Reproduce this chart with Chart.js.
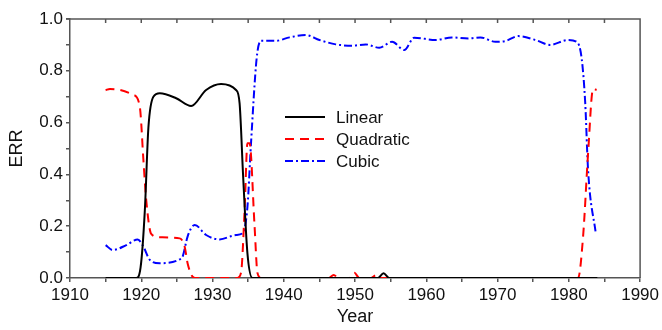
<!DOCTYPE html>
<html>
<head>
<meta charset="utf-8">
<script src="https://cdn.jsdelivr.net/npm/chart.js@4.4.0/dist/chart.umd.min.js"></script>
<style>
  html, body { margin: 0; padding: 0; background: #fff; }
  #wrap { width: 662px; height: 330px; }
</style>
</head>
<body>
<div id="wrap"><canvas id="errChart" width="662" height="330"></canvas></div>
<script>
// values
const linearYears = [1915, 1919.3, 1919.9, 1920.5, 1921, 1921.7, 1922.6, 1924.9, 1927, 1929.1, 1931.2, 1933.3, 1933.8, 1934.3, 1934.9, 1935.6, 1953.2, 1954, 1954.8, 1984];
const linearErr = [0, 0, 0.04, 0.26, 0.58, 0.70, 0.713, 0.694, 0.664, 0.726, 0.749, 0.726, 0.674, 0.39, 0.095, 0, 0, 0.018, 0, 0];

const quadYears = [1915, 1915.6, 1918.9, 1919.8, 1920.3, 1920.7, 1921.4, 1922.6, 1925.4, 1926.1, 1926.5, 1927.2, 1927.6, 1933.5, 1934, 1934.5, 1934.9, 1935.2, 1935.9, 1936.3, 1936.8, 1946.3, 1947, 1947.7, 1949.2, 1949.9, 1950.6, 1952.2, 1953, 1953.6, 1981.3, 1982, 1982.7, 1983.4, 1983.9];
const quadErr = [0.725, 0.73, 0.707, 0.66, 0.456, 0.30, 0.17, 0.157, 0.153, 0.12, 0.057, 0.005, 0, 0, 0.02, 0.26, 0.52, 0.52, 0.2, 0.02, 0, 0, 0.012, 0, 0, 0.02, 0, 0, 0.012, 0, 0, 0.16, 0.48, 0.73, 0.726];

const cubicYears = [1915, 1916, 1917.9, 1919.5, 1920.3, 1921.2, 1922.6, 1925.4, 1925.8, 1926.5, 1927.5, 1929.1, 1931, 1933.3, 1934.2, 1934.9, 1935.4, 1936.2, 1936.8, 1938.9, 1940.8, 1943.1, 1945, 1947.3, 1949.6, 1951.5, 1953.4, 1955.2, 1956.9, 1958.3, 1961.3, 1963.6, 1965.9, 1967.6, 1969.7, 1971.1, 1972.9, 1975.3, 1977.4, 1979.9, 1981.1, 1981.8, 1982.3, 1982.7, 1983.8];
const cubicErr = [0.127, 0.108, 0.127, 0.149, 0.121, 0.07, 0.057, 0.072, 0.082, 0.16, 0.205, 0.166, 0.149, 0.166, 0.172, 0.275, 0.52, 0.85, 0.916, 0.916, 0.929, 0.938, 0.919, 0.902, 0.897, 0.902, 0.889, 0.912, 0.88, 0.928, 0.919, 0.929, 0.925, 0.929, 0.912, 0.915, 0.934, 0.919, 0.9, 0.919, 0.912, 0.848, 0.676, 0.417, 0.168];

const seriesNames = ['Linear', 'Quadratic', 'Cubic'];
const xTickStep = 5;
const yTickStep = 0.1;

const FONT = 'Liberation Sans, Arial, sans-serif';
const AXIS = '#555';

function toPoints(xs, ys) {
  return xs.map((x, i) => ({ x, y: ys[i] }));
}

// legend inside the plot + top/right frame with inward top ticks
const framePlugin = {
  id: 'frame',
  afterDraw(chart) {
    const { ctx, chartArea: a, scales } = chart;
    ctx.save();
    ctx.strokeStyle = AXIS;
    ctx.lineWidth = 1.5;
    ctx.beginPath();
    ctx.moveTo(a.left - 4, a.top);
    ctx.lineTo(a.right, a.top);
    ctx.lineTo(a.right, a.bottom);
    ctx.stroke();
    for (let v = 1910 + xTickStep; v < 1990; v += xTickStep) {
      const px = scales.x.getPixelForValue(v);
      ctx.beginPath();
      ctx.moveTo(px, a.top);
      ctx.lineTo(px, a.top + 4);
      ctx.stroke();
    }

    const x0 = 285, x1 = 325, y0 = 117, dy = 22;
    ctx.font = '17px ' + FONT;
    ctx.textBaseline = 'middle';
    chart.data.datasets.forEach((ds, i) => {
      const y = y0 + i * dy;
      ctx.strokeStyle = ds.borderColor;
      ctx.lineWidth = 2;
      ctx.setLineDash(ds.borderDash || []);
      ctx.beginPath();
      ctx.moveTo(x0, y);
      ctx.lineTo(x1, y);
      ctx.stroke();
      ctx.setLineDash([]);
      ctx.fillStyle = '#111';
      ctx.fillText(ds.label, 336, y + 1);
    });
    ctx.restore();
  },
};

const ctx = document.getElementById('errChart');
new Chart(ctx, {
  type: 'line',
  data: {
    datasets: [
      {
        label: seriesNames[0],
        data: toPoints(linearYears, linearErr),
        borderColor: '#000000',
        borderWidth: 2,
        pointRadius: 0,
        cubicInterpolationMode: 'monotone',
        fill: false,
      },
      {
        label: seriesNames[1],
        data: toPoints(quadYears, quadErr),
        borderColor: '#ff0000',
        borderWidth: 2,
        borderDash: [9, 6],
        pointRadius: 0,
        cubicInterpolationMode: 'monotone',
        fill: false,
      },
      {
        label: seriesNames[2],
        data: toPoints(cubicYears, cubicErr),
        borderColor: '#0000ff',
        borderWidth: 2,
        borderDash: [8, 3, 2, 3],
        pointRadius: 0,
        cubicInterpolationMode: 'monotone',
        fill: false,
      },
    ],
  },
  options: {
    responsive: false,
    animation: false,
    layout: { padding: { top: 19, right: 20, left: 0, bottom: 0 } },
    plugins: { legend: { display: false }, tooltip: { enabled: false } },
    scales: {
      x: {
        type: 'linear',
        min: 1910,
        max: 1990,
        afterFit(s) { s.height = 52; },
        border: { color: AXIS, width: 1.5 },
        grid: { drawOnChartArea: false, tickLength: 4, color: AXIS, lineWidth: 1.5 },
        ticks: {
          stepSize: xTickStep,
          autoSkip: false,
          maxRotation: 0,
          padding: 3,
          color: '#111',
          font: { family: FONT, size: 17 },
          callback: (v) => (v % 10 === 0 ? String(v) : ''),
        },
        title: {
          display: true,
          text: 'Year',
          color: '#111',
          font: { family: FONT, size: 18 },
          padding: { top: 0, bottom: 2 },
        },
      },
      y: {
        min: 0,
        max: 1,
        afterFit(s) { s.width = 70; },
        border: { color: AXIS, width: 1.5 },
        grid: { drawOnChartArea: false, tickLength: 4, color: AXIS, lineWidth: 1.5 },
        ticks: {
          stepSize: yTickStep,
          autoSkip: false,
          padding: 3,
          color: '#111',
          font: { family: FONT, size: 17 },
          callback: (v) => (Math.round(v * 10) % 2 === 0 ? v.toFixed(1) : ''),
        },
        title: {
          display: true,
          text: 'ERR',
          color: '#111',
          font: { family: FONT, size: 18 },
          padding: { top: 6, bottom: 0 },
        },
      },
    },
  },
  plugins: [framePlugin],
});
</script>
</body>
</html>
